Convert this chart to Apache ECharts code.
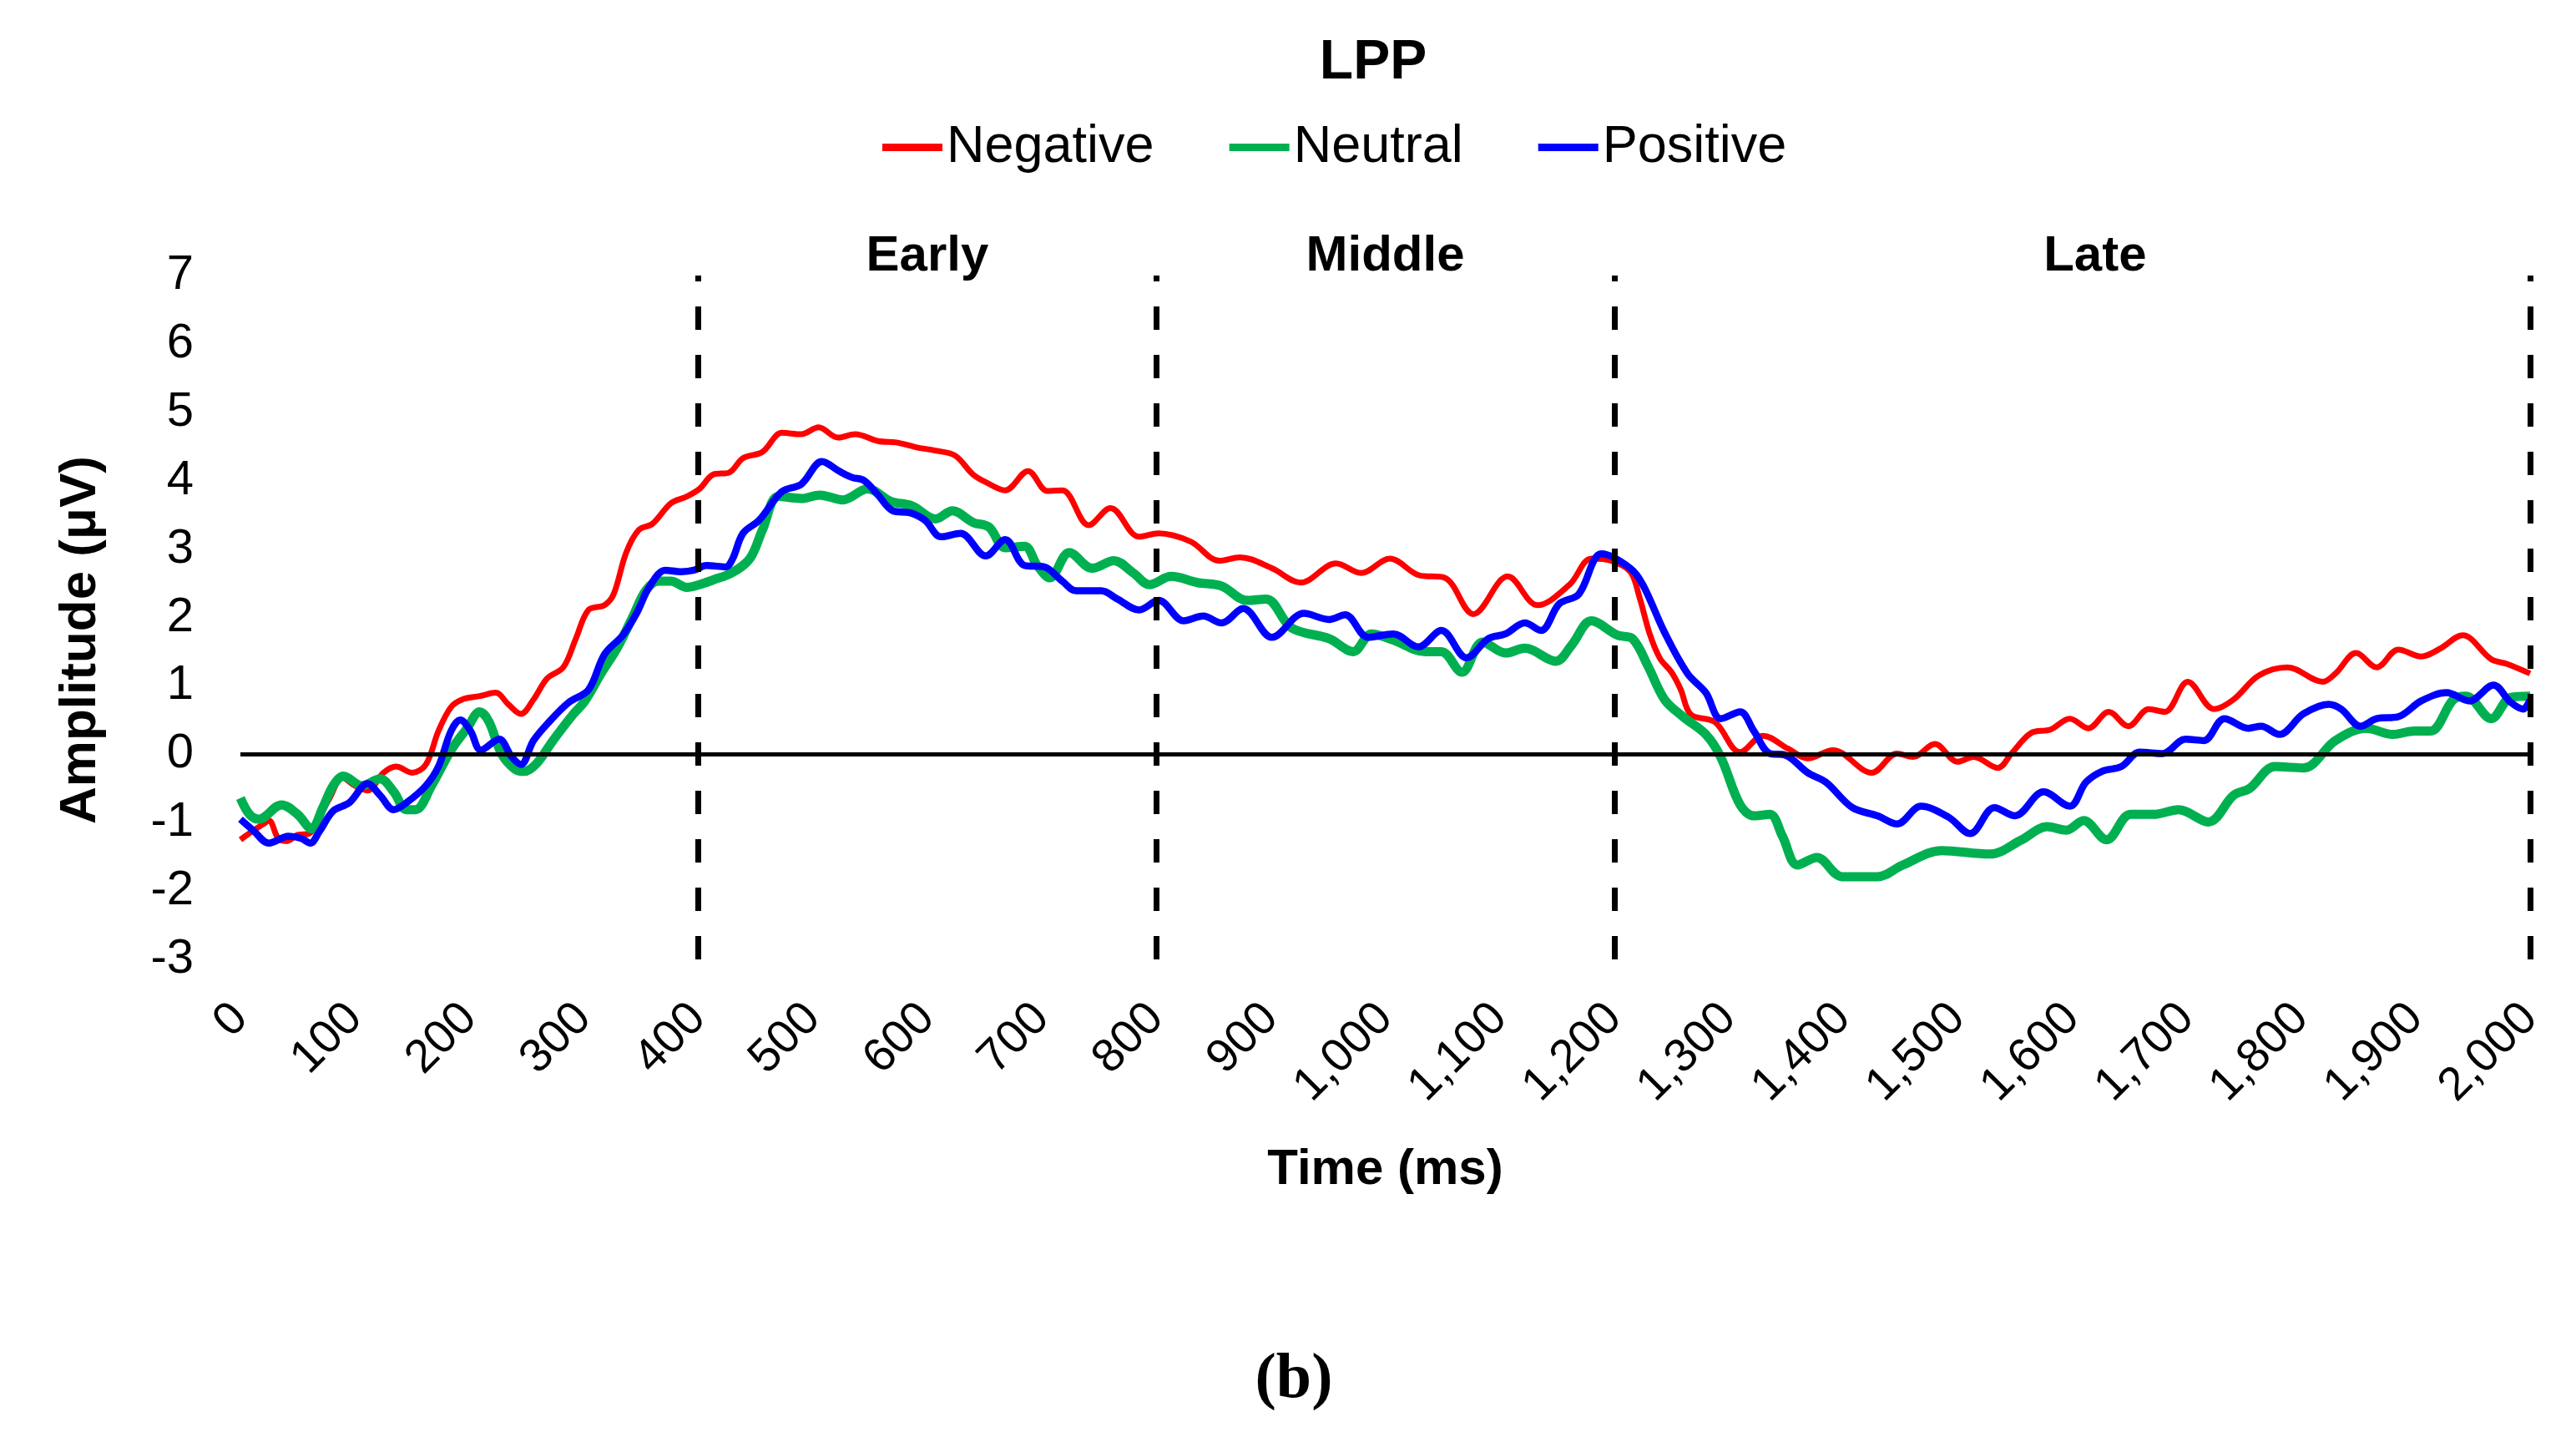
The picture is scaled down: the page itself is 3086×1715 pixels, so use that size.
<!DOCTYPE html>
<html>
<head>
<meta charset="utf-8">
<title>LPP</title>
<script src="https://cdn.jsdelivr.net/npm/echarts@6/dist/echarts.min.js"></script>
<style>
html,body{margin:0;padding:0;background:#fff;}
#chart{width:3086px;height:1715px;}
</style>
</head>
<body>
<div id="chart"></div>
<script>
// ---- data ----
const seriesNames = ['Negative', 'Neutral', 'Positive'];
const seriesColors = ['#FF0000', '#00B050', '#0000FF'];

const negTime = [0,10,20,25,33,40,50,60,70,78,89,100,111,125,136,150,162,173,184,195,209,223,234,245,256,268,282,293,304,318,326,337,348,360,376,390,401,413,427,439,456,473,490,505,522,537,557,573,590,607,624,640,651,668,688,705,718,741,760,785,802,830,855,873,901,926,957,979,1004,1029,1052,1077,1107,1133,1161,1180,1197,1214,1222,1231,1240,1250,1258,1267,1288,1310,1330,1352,1369,1391,1425,1447,1461,1480,1500,1514,1535,1547,1564,1581,1598,1614,1632,1649,1667,1681,1701,1724,1741,1763,1788,1819,1830,1848,1866,1885,1905,1922,1941,1966,1980,2000];
const negAmp = [-1.25,-1.13,-1.02,-0.97,-1.23,-1.27,-1.18,-1.16,-0.88,-0.64,-0.34,-0.46,-0.53,-0.27,-0.18,-0.27,-0.15,0.34,0.69,0.81,0.85,0.90,0.73,0.59,0.80,1.11,1.27,1.69,2.11,2.18,2.34,2.95,3.28,3.37,3.67,3.77,3.88,4.09,4.12,4.33,4.42,4.70,4.68,4.78,4.63,4.68,4.58,4.56,4.49,4.44,4.37,4.09,3.98,3.86,4.14,3.85,3.86,3.35,3.60,3.18,3.23,3.11,2.83,2.88,2.72,2.51,2.79,2.65,2.86,2.62,2.58,2.05,2.60,2.18,2.48,2.86,2.83,2.67,2.30,1.76,1.40,1.20,0.95,0.58,0.47,0.03,0.27,0.08,-0.06,0.06,-0.27,0.01,-0.04,0.15,-0.11,-0.04,-0.20,0.01,0.31,0.36,0.52,0.38,0.62,0.41,0.66,0.62,1.06,0.66,0.80,1.15,1.27,1.06,1.18,1.48,1.27,1.53,1.43,1.55,1.74,1.39,1.32,1.18];

const neuTime = [0,8,16,36,50,62,72,81,90,106,122,134,145,153,167,184,198,209,217,228,240,248,259,273,290,301,315,329,343,354,365,376,390,401,413,429,445,456,470,490,506,526,548,568,587,607,622,640,654,668,685,696,707,724,744,763,780,794,813,836,857,879,896,918,951,972,988,1007,1035,1049,1067,1085,1105,1122,1149,1163,1180,1203,1216,1230,1244,1260,1280,1293,1310,1322,1336,1347,1360,1377,1399,1430,1452,1486,1528,1556,1578,1595,1610,1630,1651,1671,1693,1719,1741,1755,1777,1802,1830,1857,1880,1899,1913,1933,1944,1966,1983,2000];
const neuAmp = [-0.64,-0.88,-0.95,-0.74,-0.88,-1.09,-0.78,-0.46,-0.32,-0.46,-0.36,-0.55,-0.81,-0.81,-0.46,0.06,0.38,0.62,0.48,0.01,-0.22,-0.25,-0.13,0.20,0.57,0.78,1.18,1.55,2.02,2.39,2.53,2.53,2.44,2.48,2.55,2.65,2.86,3.28,3.77,3.74,3.79,3.72,3.88,3.70,3.63,3.44,3.56,3.39,3.32,3.02,3.04,2.76,2.58,2.95,2.72,2.83,2.65,2.48,2.60,2.51,2.46,2.25,2.27,1.85,1.69,1.50,1.76,1.67,1.50,1.50,1.20,1.64,1.48,1.55,1.36,1.60,1.95,1.74,1.69,1.27,0.80,0.55,0.29,-0.04,-0.74,-0.90,-0.88,-1.20,-1.62,-1.51,-1.79,-1.79,-1.62,-1.41,-1.46,-1.25,-1.06,-1.11,-0.97,-1.25,-0.88,-0.88,-0.81,-0.99,-0.60,-0.50,-0.18,-0.20,0.20,0.38,0.29,0.34,0.34,0.80,0.85,0.52,0.83,0.85];

const posTime = [0,11,25,42,53,61,69,81,95,111,122,134,145,162,173,184,192,201,210,226,237,245,256,270,287,304,318,334,346,357,371,385,396,407,424,430,439,453,473,490,508,523,534,545,557,570,585,598,612,629,651,668,685,702,718,730,752,766,785,802,824,841,857,876,901,929,951,965,985,1007,1029,1049,1071,1090,1105,1122,1136,1152,1169,1189,1214,1225,1244,1264,1280,1293,1310,1322,1336,1349,1369,1385,1408,1430,1447,1468,1492,1511,1532,1550,1575,1598,1612,1626,1643,1659,1679,1699,1715,1733,1754,1765,1781,1802,1824,1835,1852,1866,1885,1905,1927,1947,1968,1983,1994,2000];
const posAmp = [-0.95,-1.11,-1.30,-1.20,-1.23,-1.30,-1.13,-0.83,-0.71,-0.43,-0.60,-0.81,-0.71,-0.46,-0.18,0.34,0.50,0.34,0.06,0.22,-0.04,-0.15,0.20,0.48,0.76,0.94,1.46,1.74,2.06,2.44,2.69,2.67,2.69,2.76,2.74,2.86,3.23,3.42,3.84,3.95,4.28,4.14,4.05,4.00,3.79,3.56,3.53,3.42,3.18,3.23,2.90,3.14,2.76,2.74,2.53,2.39,2.39,2.27,2.11,2.25,1.95,2.02,1.92,2.13,1.71,2.06,1.97,2.04,1.71,1.76,1.57,1.81,1.41,1.69,1.76,1.92,1.81,2.20,2.34,2.93,2.72,2.48,1.78,1.18,0.90,0.52,0.62,0.34,0.01,-0.01,-0.27,-0.41,-0.78,-0.90,-1.02,-0.76,-0.92,-1.16,-0.78,-0.90,-0.55,-0.76,-0.41,-0.25,-0.18,0.03,0.01,0.22,0.20,0.52,0.38,0.41,0.29,0.59,0.73,0.66,0.41,0.52,0.55,0.78,0.90,0.78,1.01,0.76,0.66,0.80];

const windowBounds = [400, 800, 1200, 2000];
const windowNames = ['Early', 'Middle', 'Late'];
const windowLabelTimes = [600, 1000, 1620];
const windowLabelAmp = 7.27;

const xMin = 0, xMax = 2000, xStep = 100;
const yMin = -3, yMax = 7, yStep = 1;

// ---- build chart ----
function zip(t, v) { return t.map((x, i) => [x, v[i]]); }
const lineWidths = [7, 11, 8.5];
const allData = [zip(negTime, negAmp), zip(neuTime, neuAmp), zip(posTime, posAmp)];

const FONT = 'Liberation Sans, Arial, sans-serif';

const chart = echarts.init(document.getElementById('chart'), null, {renderer: 'canvas'});

const series = [];
// zero line (behind curves)
series.push({
  type: 'line', name: 'zero', data: [], z: 1, silent: true,
  markLine: {
    silent: true, symbol: 'none', animation: false,
    label: {show: false},
    lineStyle: {color: '#000', width: 5, type: 'solid'},
    data: [{yAxis: 0}]
  }
});
seriesNames.forEach((n, i) => {
  series.push({
    type: 'line', name: n, data: allData[i], z: 2 + i,
    showSymbol: false, symbol: 'none', smooth: 0.35,
    lineStyle: {color: seriesColors[i], width: lineWidths[i]},
    itemStyle: {color: seriesColors[i]},
    animation: false
  });
});
// dashed window boundaries (on top)
series.push({
  type: 'line', name: 'bounds', data: [], z: 10, silent: true,
  markLine: {
    silent: true, symbol: 'none', animation: false,
    label: {show: false},
    lineStyle: {color: '#000', width: 7, type: [28, 30]},
    data: windowBounds.map(b => ({xAxis: b}))
  }
});
// window labels
series.push({
  type: 'scatter', name: 'windows', z: 11, silent: true, clip: false,
  symbolSize: 0,
  itemStyle: {opacity: 1},
  data: windowLabelTimes.map((t, i) => [t, windowLabelAmp, windowNames[i]]),
  label: {
    show: true, position: 'inside',
    formatter: p => p.value[2],
    color: '#000', opacity: 1, fontFamily: FONT, fontWeight: 'bold', fontSize: 60
  },
  animation: false
});

chart.setOption({
  backgroundColor: '#fff',
  animation: false,
  title: [
    {text: 'LPP', left: 1640, top: 38, textAlign: 'center',
     textStyle: {fontFamily: FONT, fontWeight: 'bold', fontSize: 66, color: '#000'}},
    {text: '(b)', left: 1545, top: 1610, textAlign: 'center',
     textStyle: {fontFamily: 'Liberation Serif, Times New Roman, serif', fontWeight: 'bold', fontSize: 76, color: '#000'}}
  ],
  legend: {
    data: seriesNames,
    left: 1052, top: 140,
    icon: 'rect', itemWidth: 72, itemHeight: 9, itemGap: 90,
    textStyle: {fontFamily: FONT, fontSize: 63, color: '#000'}
  },
  grid: {left: 288, right: 55, top: 330, bottom: 566, containLabel: false},
  xAxis: {
    type: 'value', min: xMin, max: xMax, interval: xStep,
    name: 'Time (ms)', nameLocation: 'middle', nameGap: 222,
    nameTextStyle: {fontFamily: FONT, fontWeight: 'bold', fontSize: 60, color: '#000'},
    axisLine: {show: false}, axisTick: {show: false}, splitLine: {show: false},
    axisLabel: {
      rotate: 45, margin: 62, color: '#000', fontFamily: FONT, fontSize: 56,
      formatter: v => v.toLocaleString('en-US')
    }
  },
  yAxis: {
    type: 'value', min: yMin, max: yMax, interval: yStep,
    name: 'Amplitude (μV)', nameLocation: 'middle', nameGap: 160,
    nameTextStyle: {fontFamily: FONT, fontWeight: 'bold', fontSize: 62, color: '#000', padding: [0, 54, 0, 0]},
    axisLine: {show: false}, axisTick: {show: false}, splitLine: {show: false},
    axisLabel: {margin: 56, color: '#000', fontFamily: FONT, fontSize: 58}
  },
  series: series
});
</script>
</body>
</html>
